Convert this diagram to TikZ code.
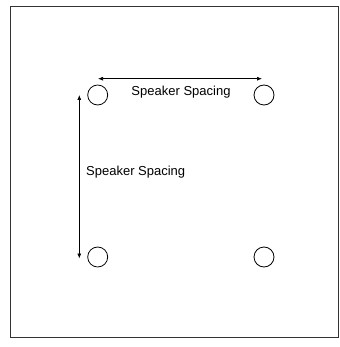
\documentclass[tikz,border=0pt]{standalone}
\usepackage{fontspec}
\setmainfont{Liberation Sans}
\usetikzlibrary{arrows.meta}
\begin{document}
\begin{tikzpicture}[x=1pt,y=-1pt,
  spk/.style={circle,draw,line width=0.8pt,minimum size=20pt,inner sep=0pt},
  dim/.style={line width=0.7pt,{Latex[length=5pt,width=4pt]}-{Latex[length=5pt,width=4pt]}},
  lbl/.style={font=\fontsize{13}{15}\selectfont,inner sep=0pt}]
\useasboundingbox (0,0) rectangle (339,347);
\draw[line width=1pt,draw=black!80] (10.7,6.7) rectangle (338.2,337.7);
\node[spk] (s1) at (97.7,95) {};
\node[spk] (s2) at (264,95) {};
\node[spk] (s3) at (97.7,257) {};
\node[spk] (s4) at (264,257) {};
\coordinate (h1) at (98,78.7);
\coordinate (h2) at (262,78.7);
\coordinate (v1) at (79.3,95);
\coordinate (v2) at (79.3,258.5);
\draw[dim] (h1) -- (h2);
\draw[dim] (v1) -- (v2);
\node[lbl] (t1) at (181,92) {Speaker Spacing};
\node[lbl,anchor=west] (t2) at (86,172.5) {Speaker Spacing};
\end{tikzpicture}
\end{document}
